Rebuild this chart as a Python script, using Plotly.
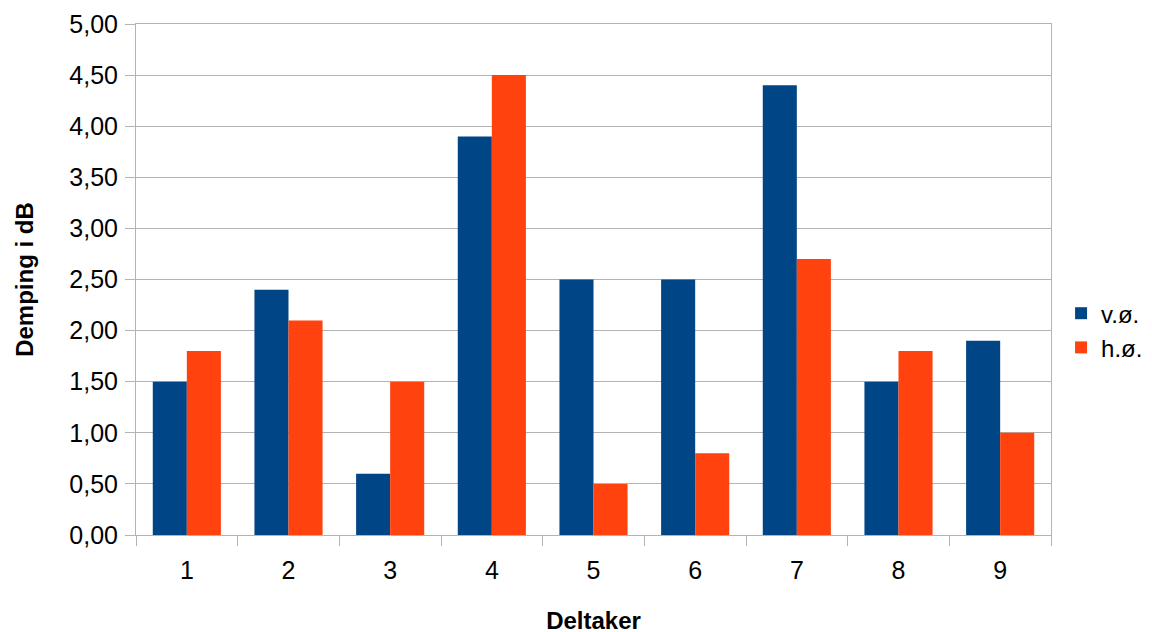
import plotly.graph_objects as go

categories = ["1", "2", "3", "4", "5", "6", "7", "8", "9"]
v_o = [1.5, 2.4, 0.6, 3.9, 2.5, 2.5, 4.4, 1.5, 1.9]
h_o = [1.8, 2.1, 1.5, 4.5, 0.5, 0.8, 2.7, 1.8, 1.0]
y_ticks = [0, 0.5, 1, 1.5, 2, 2.5, 3, 3.5, 4, 4.5, 5]

fig = go.Figure()
fig.add_trace(go.Bar(x=categories, y=v_o, name="v.ø.", marker=dict(color="#004586", line=dict(width=0))))
fig.add_trace(go.Bar(x=categories, y=h_o, name="h.ø.", marker=dict(color="#ff420e", line=dict(width=0))))

fig.update_layout(
    width=1152, height=632,
    margin=dict(l=128, r=109, t=16, b=105),
    paper_bgcolor="white", plot_bgcolor="white",
    font=dict(family="Liberation Sans, Arial, sans-serif", color="black", size=25),
    separators=", ",
    barmode="group", bargap=0.33, bargroupgap=0,
    showlegend=True,
    legend=dict(x=0.011, y=0.40, xanchor="left", yanchor="middle", xref="paper",
                font=dict(size=24), tracegroupgap=0, itemwidth=30),
    xaxis=dict(
        type="category", automargin=False,
        title=dict(text="<b>Deltaker</b>", font=dict(size=24), standoff=29),
        showline=True, linecolor="#b3b3b3", linewidth=1, mirror=True,
        ticks="outside", ticklen=10, tickcolor="#b3b3b3", tickson="boundaries",
        ticklabelstandoff=13,
        showgrid=False, tickfont=dict(size=25),
    ),
    yaxis=dict(
        range=[0, 5], automargin=False,
        tickvals=y_ticks, tickformat=".2f",
        title=dict(text="<b>Demping i dB</b>", font=dict(size=24), standoff=28),
        showline=True, linecolor="#b3b3b3", linewidth=1, mirror=True,
        ticks="outside", ticklen=10, tickcolor="#b3b3b3",
        ticklabelstandoff=2,
        showgrid=True, gridcolor="#b3b3b3", gridwidth=1,
        zeroline=False, tickfont=dict(size=25),
    ),
)
fig.update_layout(legend=dict(x=1.011))

fig.write_html("out.html")
